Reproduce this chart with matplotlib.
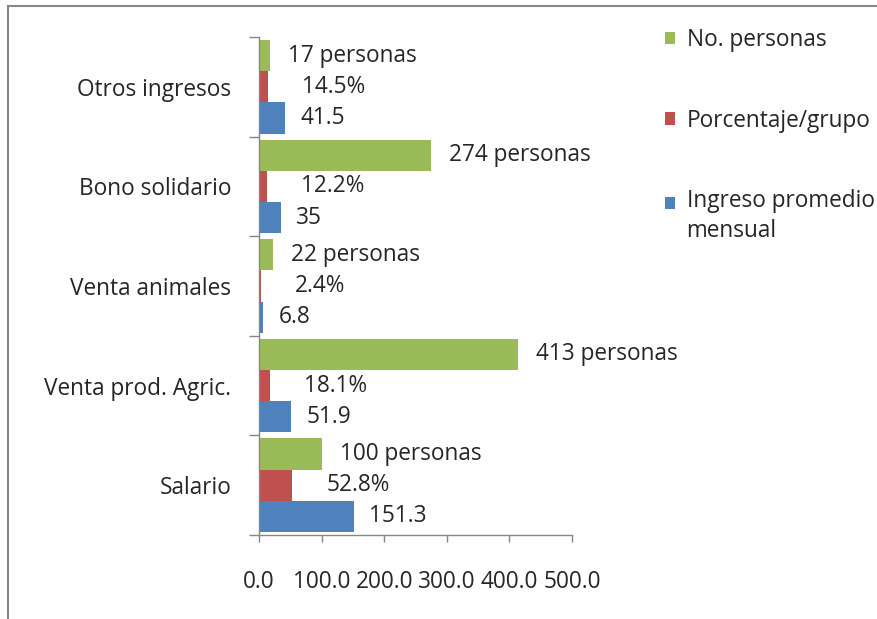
import matplotlib
matplotlib.use("Agg")
import matplotlib.pyplot as plt
from matplotlib.patches import Patch, Rectangle
from matplotlib.legend_handler import HandlerPatch
from matplotlib.lines import Line2D
import numpy as np

plt.rcParams['font.family'] = ['Open Sans', 'DejaVu Sans']

categories = ["Salario", "Venta prod. Agric.", "Venta animales", "Bono solidario", "Otros ingresos"]
personas = [100, 413, 22, 274, 17]
porcentaje = [52.8, 18.1, 2.4, 12.2, 14.5]
ingreso = [151.3, 51.9, 6.8, 35, 41.5]
series_names = ["No. personas", "Porcentaje/grupo", "Ingreso promedio\nmensual"]
colors = ["#9BBB59", "#C0504D", "#4F81BD"]
xticks = [0, 100, 200, 300, 400, 500]

FS = 16.3
TXT = "#262626"

fig = plt.figure(figsize=(8.78, 6.19), dpi=100)
ax = fig.add_axes([259/878, 1-535/619, 313/878, 498/619])

y = np.arange(len(categories))
h = 0.313
ax.barh(y + h, personas, height=h, color=colors[0])
ax.barh(y, porcentaje, height=h, color=colors[1])
ax.barh(y - h, ingreso, height=h, color=colors[2])

def fmt(v):
    return f"{v:g}"

for yi, v in zip(y, personas):
    ax.annotate(f"{fmt(v)} personas", (v, yi + h), xytext=(13, 0), textcoords="offset points",
                va="center", ha="left", fontsize=FS, color=TXT)
for yi, v in zip(y, porcentaje):
    ax.annotate(f"{fmt(v)}%", (v, yi), xytext=(24.5, 0), textcoords="offset points",
                va="center", ha="left", fontsize=FS, color=TXT)
for yi, v in zip(y, ingreso):
    ax.annotate(fmt(v), (v, yi - h), xytext=(11, 0), textcoords="offset points",
                va="center", ha="left", fontsize=FS, color=TXT)

ax.set_xlim(0, 500)
ax.set_ylim(-0.5, len(categories) - 0.5)
ax.set_xticks(xticks)
ax.set_xticklabels([f"{t:.1f}" for t in xticks], fontsize=FS, color=TXT)
ax.tick_params(axis="x", length=5, width=1, color="#868686", pad=20)

ax.set_yticks(np.arange(-0.5, len(categories), 1.0))
ax.set_yticklabels([])
ax.tick_params(axis="y", which="major", length=7, width=1, color="#868686")
ax.set_yticks(y, minor=True)
ax.set_yticklabels(categories, minor=True, fontsize=FS, color=TXT)
ax.tick_params(axis="y", which="minor", length=0, pad=20)

for s in ["top", "right"]:
    ax.spines[s].set_visible(False)
for s in ["left", "bottom"]:
    ax.spines[s].set_color("#868686")
    ax.spines[s].set_linewidth(1)


def square(legend, orig_handle, xdescent, ydescent, width, height, fontsize):
    return Rectangle((-xdescent, -ydescent), width, height)


def square_up(legend, orig_handle, xdescent, ydescent, width, height, fontsize):
    return Rectangle((-xdescent, -ydescent + 0.62 * fontsize), width, height)


handles = [Patch(facecolor=c, edgecolor="none") for c in colors]
hmap = {handles[0]: HandlerPatch(patch_func=square),
        handles[1]: HandlerPatch(patch_func=square),
        handles[2]: HandlerPatch(patch_func=square_up)}
leg = fig.legend(handles, series_names, loc="upper left", bbox_to_anchor=(665/878, 1-28/619),
                 frameon=False, fontsize=FS, labelspacing=2.5, handlelength=0.45, handleheight=0.45,
                 handletextpad=0.5, labelcolor=TXT, borderaxespad=0, borderpad=0,
                 handler_map=hmap)
for t in leg.get_texts():
    t.set_linespacing(1.35)

fig.add_artist(Line2D([8/878, 8/878], [0, 1-6/619], color="#888888", lw=1.5, transform=fig.transFigure))
fig.add_artist(Line2D([8/878, 1], [1-6/619, 1-6/619], color="#888888", lw=1.5, transform=fig.transFigure))

fig.savefig("out.png", dpi=100)
